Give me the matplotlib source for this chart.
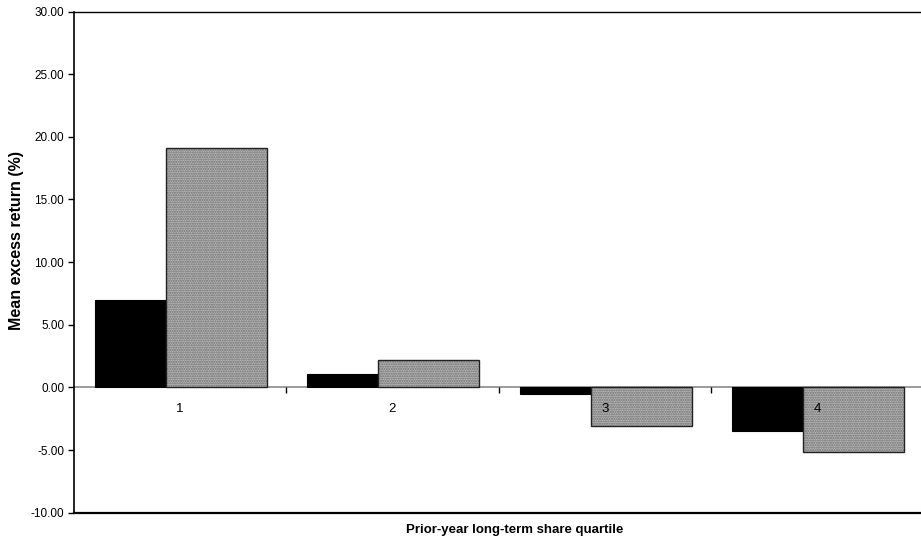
import matplotlib
matplotlib.use("Agg")
import matplotlib.pyplot as plt
from matplotlib.ticker import FuncFormatter, FixedLocator
import numpy as np

plt.rcParams['font.family'] = ['Liberation Sans', 'DejaVu Sans']

categories = ["1", "2", "3", "4"]
series_black = [7.0, 1.1, -0.5, -3.45]
series_gray = [19.1, 2.2, -3.1, -5.15]
yticks = [-10, -5, 0, 5, 10, 15, 20, 25, 30]

fig = plt.figure(figsize=(9.21, 5.43), dpi=100)
ax = fig.add_axes([74/921, 1-512.7/543, 1-74/921, (512.7-11.5)/543])

x = np.arange(1, len(categories) + 1)
w_black = 0.334
w_gray = 0.476
left_black = x - 0.401
left_gray = left_black + w_black

ax.bar(left_black, series_black, width=w_black, align='edge',
       color='black', edgecolor='black', linewidth=0.8, zorder=2)
# gray stippled bars: textured fill then black outline
ax.bar(left_gray, series_gray, width=w_gray, align='edge',
       color='#b4b4b4', edgecolor='#707070', hatch='.......', linewidth=0, zorder=2)
ax.bar(left_gray, series_gray, width=w_gray, align='edge',
       fill=False, edgecolor='#222222', linewidth=1.0, zorder=2.1)

ax.set_xlim(0.5, 0.5 + 847/212.3)
ax.set_ylim(-10, 30)

ax.set_axisbelow(False)
# zero axis with category labels
ax.spines['bottom'].set_position(('data', 0))
ax.spines['bottom'].set_color('#8a8a8a')
ax.spines['bottom'].set_linewidth(1.2)
ax.spines['bottom'].set_zorder(1.5)
ax.xaxis.set_major_locator(FixedLocator(x))
ax.set_xticklabels(categories, fontsize=9.5)
ax.xaxis.set_minor_locator(FixedLocator(x[:-1] + 0.5))
ax.tick_params(axis='x', which='major', length=0, pad=11)
ax.tick_params(axis='x', which='minor', length=4, width=1, color='black', direction='out')

ax.axhline(-10, color='black', linewidth=1.6, clip_on=False, zorder=3)
ax.spines['top'].set_linewidth(1.0)
ax.spines['right'].set_visible(False)
ax.spines['left'].set_linewidth(1.2)

ax.set_yticks(yticks)
ax.yaxis.set_major_formatter(FuncFormatter(lambda v, p: f"{v:.2f}"))
ax.tick_params(axis='y', length=4, width=1, labelsize=8.5, pad=3)

fig.text(17/921, 1-241/543, "Mean excess return (%)", rotation=90,
         ha='center', va='center', fontsize=11.5, fontweight='bold')
fig.text(515/921, 1-530/543, "Prior-year long-term share quartile",
         ha='center', va='center', fontsize=9.5, fontweight='bold')

fig.savefig("out.png", dpi=100)
